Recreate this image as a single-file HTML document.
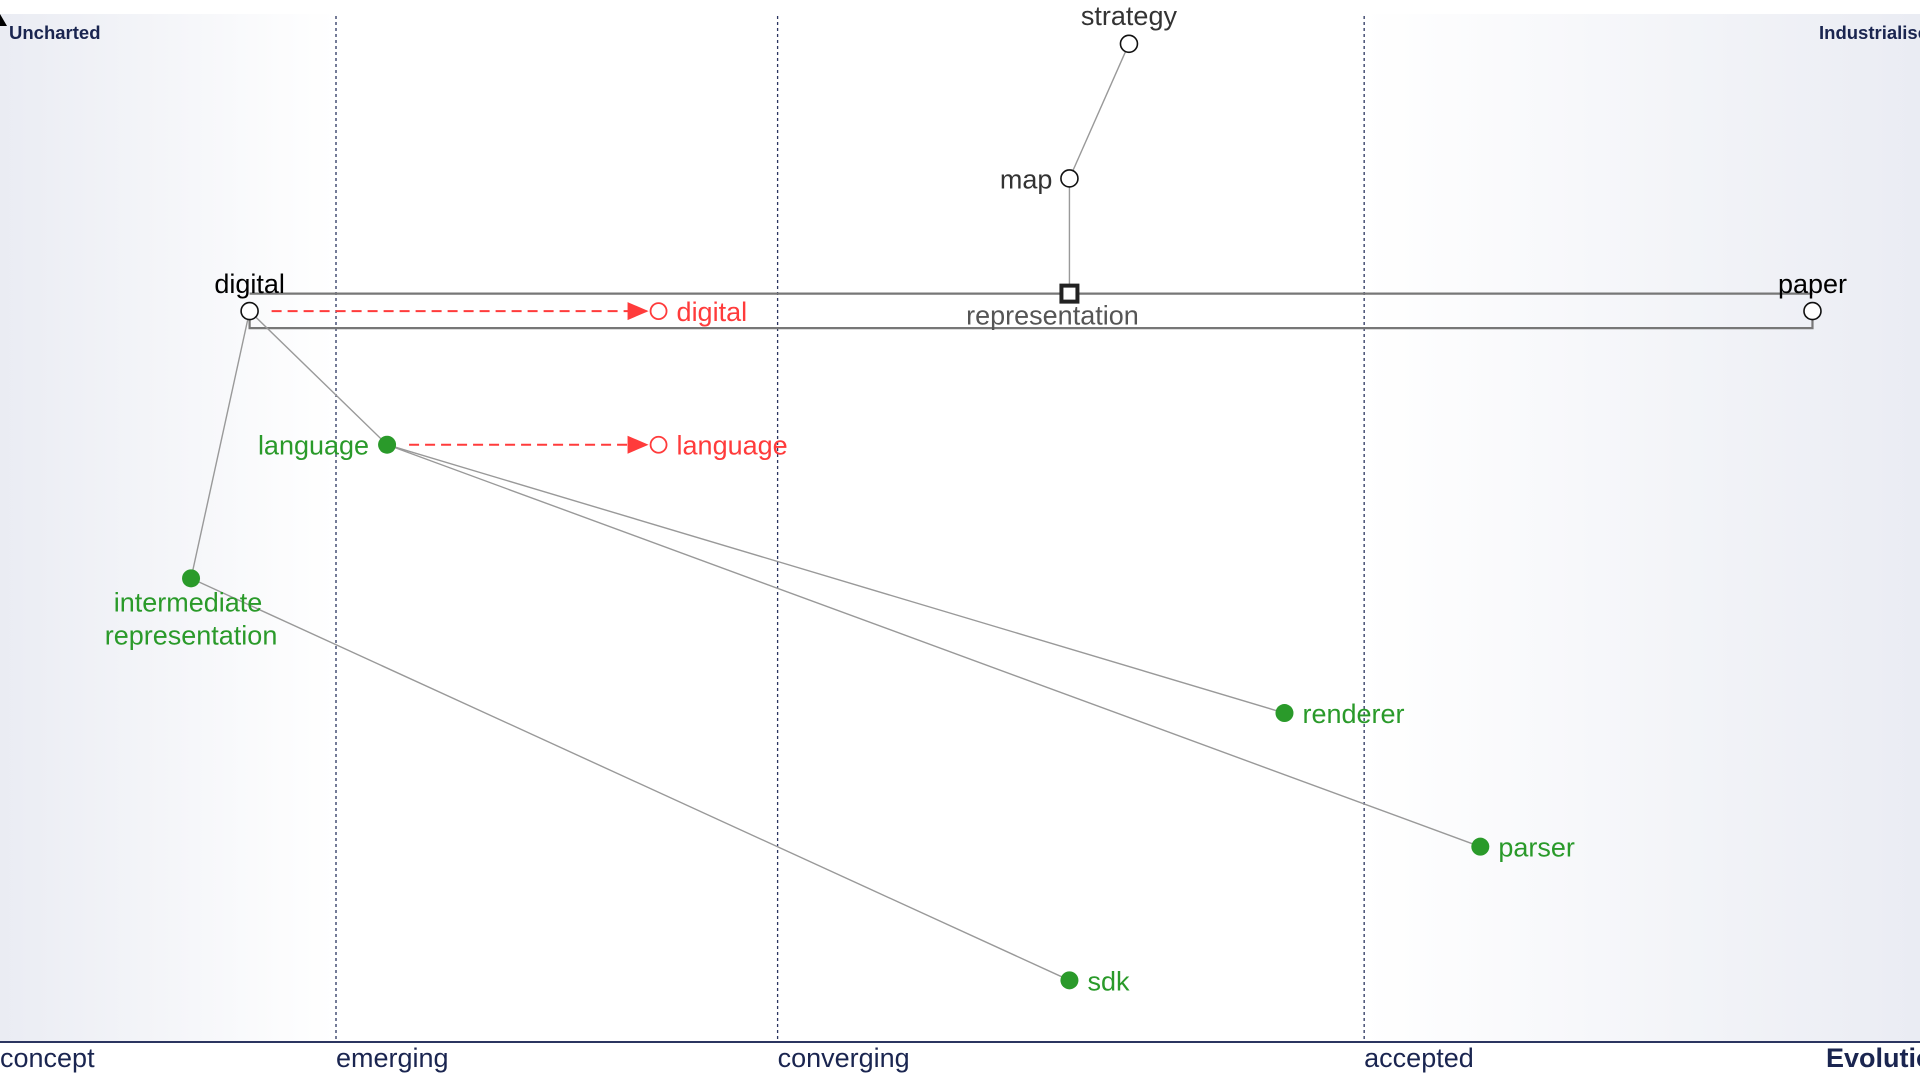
<!DOCTYPE html>
<html><head><meta charset="utf-8">
<style>
html,body{margin:0;padding:0;background:#fff;width:1920px;height:1080px;overflow:hidden}
svg{display:block;font-family:"Liberation Sans",Arial,sans-serif}
</style></head>
<body>
<svg id="chart" width="1920" height="1080" viewBox="0 0 1920 1080">
<defs>
<linearGradient id="bg" x1="0" x2="1" y1="0" y2="0">
<stop offset="0" stop-color="#eaecf3"/>
<stop offset="0.175" stop-color="#ffffff"/>
<stop offset="0.71" stop-color="#ffffff"/>
<stop offset="1" stop-color="#eaecf3"/>
</linearGradient>
</defs>
<rect x="0" y="14" width="1920" height="1028" fill="url(#bg)"/>
<g id="grid"></g>
<g id="links"></g>
<g id="nodes"></g>
</svg>
<script>
const X0=0,X1=1920,Y0=14,Y1=1042;
const sx=v=>X0+v*(X1-X0);
const sy=v=>Y0+(1-v)*(Y1-Y0);
const stageNames=["concept","emerging","converging","accepted"];
const stagePos=[0,0.175,0.405,0.7105];
const compNames=["strategy","map","representation","digital","paper","language","intermediate representation","renderer","parser","sdk"];
const compEvo=[0.588,0.557,0.557,0.130,0.944,0.2016,0.0995,0.669,0.771,0.557];
const compVis=[0.971,0.84,0.728,0.711,0.711,0.581,0.451,0.32,0.19,0.06];
const linkFrom=["strategy","map","digital","digital","language","language","intermediate representation"];
const linkTo=["map","representation","language","intermediate representation","renderer","parser","sdk"];
const evolveNames=["digital","language"];
const evolveTo=[0.343,0.343];
const NS="http://www.w3.org/2000/svg";
const FS=27;
function mk(tag,attrs,parent,text){const e=document.createElementNS(NS,tag);for(const k in attrs)e.setAttribute(k,attrs[k]);if(text!==undefined)e.textContent=text;parent.appendChild(e);return e;}
const grid=document.getElementById('grid'),links=document.getElementById('links'),nodes=document.getElementById('nodes');
stageNames.forEach((n,i)=>{
  const x=sx(stagePos[i]);
  if(i>0){const l=mk('line',{x1:x,x2:x,y1:16,y2:Y1,stroke:'#2b3560','stroke-width':1.3,'stroke-dasharray':'3,3'},grid);
  
  }
  const t=mk('text',{x:x,y:1067,'font-size':FS,fill:'#1a2550'},grid,n);
  
  
});
const ax=mk('line',{x1:0,x2:1920,y1:Y1,y2:Y1,stroke:'#2b3560','stroke-width':2},grid);


const ev=mk('text',{x:1826,y:1067,'font-size':FS,'font-weight':'bold',fill:'#1a2550'},grid,'Evolution');


const un=mk('text',{x:9,y:39,'font-size':18.5,'font-weight':'bold',fill:'#1a2550'},grid,'Uncharted');


const ind=mk('text',{x:1819,y:39,'font-size':18.5,'font-weight':'bold',fill:'#1a2550'},grid,'Industrialised');


mk('path',{d:'M0 14 L7 26 L0 26 Z',fill:'#000'},grid);
const idx=n=>compNames.indexOf(n);
const P=n=>[sx(compEvo[idx(n)]),sy(compVis[idx(n)])];
const pd=P('digital'),pp=P('paper'),pr=P('representation');
const pipe=mk('path',{d:`M${pd[0]} ${pr[1]} L${pp[0]} ${pr[1]} M${pd[0]} ${pd[1]} L${pd[0]} ${pd[1]+17} L${pp[0]} ${pd[1]+17} L${pp[0]} ${pd[1]}`,fill:'none',stroke:'#777','stroke-width':2.2},links);


linkFrom.forEach((f,i)=>{
  const a=P(f),b=P(linkTo[i]);
  const l=mk('line',{x1:a[0],y1:a[1],x2:b[0],y2:b[1],stroke:'#999','stroke-width':1.4},links);
  
  
});
evolveNames.forEach((n,i)=>{
  const a=P(n),bx=sx(evolveTo[i]);
  const l=mk('line',{x1:a[0]+22,y1:a[1],x2:bx-12,y2:a[1],stroke:'#ff3b3b','stroke-width':2,'stroke-dasharray':'10,6'},links);
  
  
  const h=mk('path',{d:`M${bx-31} ${a[1]-9} L${bx-10} ${a[1]} L${bx-31} ${a[1]+9} Z`,fill:'#ff3b3b'},links);
  
  
  const c=mk('circle',{cx:bx,cy:a[1],r:8,fill:'#fff',stroke:'#ff3b3b','stroke-width':1.8},nodes);
  
  
  const t=mk('text',{x:bx+18,y:a[1]+10,'font-size':FS,fill:'#ff3b3b'},nodes,n);
  
  
});
const style={strategy:'open',map:'open',representation:'square',digital:'open',paper:'open'};
const labelPos={
 strategy:[0,-19,'middle','#333'],map:[-17,10,'end','#333'],representation:[-17,31,'middle','#555'],
 digital:[0,-18,'middle','#000'],paper:[0,-18,'middle','#000'],language:[-18,10,'end','#2a9a2a'],
 renderer:[18,10,'start','#2a9a2a'],parser:[18,10,'start','#2a9a2a'],sdk:[18,10,'start','#2a9a2a']};
compNames.forEach(n=>{
  const p=P(n),k=n.replace(/ /g,'-');let e;
  if(style[n]==='open') e=mk('circle',{cx:p[0],cy:p[1],r:8.5,fill:'#fff',stroke:'#111','stroke-width':1.6},nodes);
  else if(style[n]==='square') e=mk('rect',{x:p[0]-8,y:p[1]-8,width:16,height:16,fill:'#fff',stroke:'#222','stroke-width':4},nodes);
  else e=mk('circle',{cx:p[0],cy:p[1],r:9,fill:'#2a9a2a'},nodes);
  
  
  if(n==='intermediate representation'){
    const t=mk('text',{x:p[0],y:p[1]+33,'font-size':FS,fill:'#2a9a2a','text-anchor':'middle'},nodes);
    
    
    mk('tspan',{x:p[0]-3,dy:0},t,'intermediate');
    mk('tspan',{x:p[0],dy:33},t,'representation');
  } else {
    const lp=labelPos[n];
    const t=mk('text',{x:p[0]+lp[0],y:p[1]+lp[1],'font-size':FS,fill:lp[3],'text-anchor':lp[2]},nodes,n);
    
    
  }
});
</script>
</body></html>
